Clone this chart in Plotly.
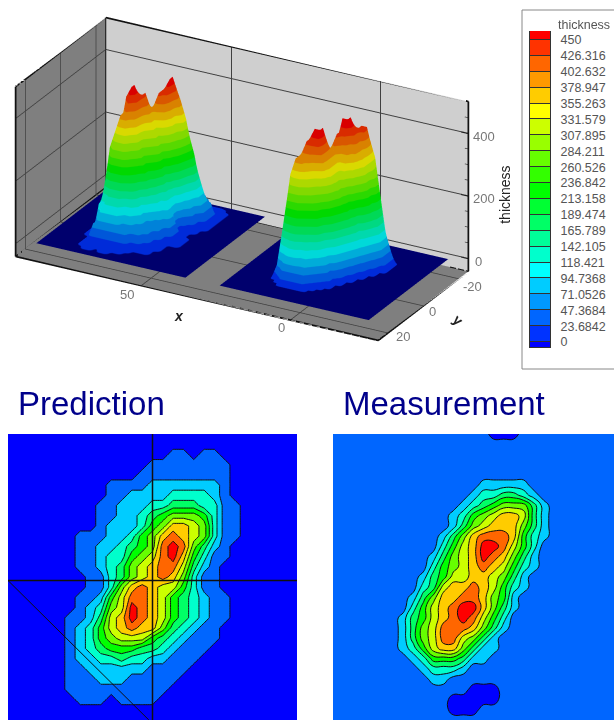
import numpy as np
import plotly.graph_objects as go

OFF = 0
W, H = 614 - OFF, 720 - OFF

# band index (0-9, A=10), one string per row, top row first
PREDICTION_ROWS = [
    "00000000000000000000000000000",
    "00000000000000000000000000000",
    "00000000000000001101100000000",
    "00000000000000111111110000000",
    "00000000000001111111110000000",
    "00000000001111222222210000000",
    "00000000001122223333210000000",
    "00000000011222334443311000000",
    "00000000011223456665311000000",
    "00000000012223568876311000000",
    "00000001112235689876311000000",
    "0000000112234569A964210000000",
    "0000000112335679A853110000000",
    "00000001123467899742100000000",
    "00000000113467898631100000000",
    "00000000113689877531100000000",
    "00000001125799875432110000000",
    "000000012367A9875432110000000",
    "000000112478A9875432110000000",
    "00000012357898864321100000000",
    "00000012356777543211100000000",
    "00000012345554432111000000000",
    "00000012233433221110000000000",
    "00000011222222111100000000000",
    "00000011122211111000000000000",
    "00000011111111110000000000000",
    "00000001110111100000000000000",
    "00000000000000000000000000000",
    "00000000000000000000000000000",
]
MEASUREMENT_ROWS = [
    "11111111111111110001111111111",
    "11111111111111111111111111111",
    "11111111111111111111111111111",
    "11111111111111111111111111111",
    "11111111111111111111111111111",
    "11111111111111122222111111111",
    "11111111111111233443211111111",
    "11111111111112345666421111111",
    "11111111111123567887421111111",
    "11111111111124678886421111111",
    "11111111111246899985321111111",
    "111111111113578AA975311111111",
    "111111111124678A9864211111111",
    "11111111113567898753211111111",
    "11111111124577887642111111111",
    "11111111134788987532111111111",
    "11111111246889986521111111111",
    "1111111135789AA86421111111111",
    "1111111245789A975311111111111",
    "11111112467999864211111111111",
    "11111112467997642111111111111",
    "11111112357886422111111111111",
    "11111111235554221111111111111",
    "11111111123332111111111111111",
    "11111111112211111111111111111",
    "11111111111111000111111111111",
    "11111111111100000111111111111",
    "11111111111100011111111111111",
    "11111111111111111111111111111",
]
# thickness that each band index stands for in the 3D view
PREDICTION_HEIGHTS = [0, 12, 60, 110, 165, 220, 280, 335, 390, 435, 470]
MEASUREMENT_HEIGHTS = [0, 0, 45, 100, 155, 215, 275, 335, 390, 435, 472]

MAP_COLORS = ["#0000ff", "#0066ff", "#00ccff", "#00ffcc", "#00ff66", "#00ff00",
              "#66ff00", "#ccff00", "#ffcc00", "#ff6600", "#ff0000"]

LEGEND_LABELS = ["450", "426.316", "402.632", "378.947", "355.263", "331.579", "307.895",
                 "284.211", "260.526", "236.842", "213.158", "189.474", "165.789", "142.105",
                 "118.421", "94.7368", "71.0526", "47.3684", "23.6842", "0"]
LEGEND_COLORS = ["#ff0000", "#ff3300", "#ff6600", "#ff9900", "#ffcc00", "#ffff00", "#ccff00",
                 "#99ff00", "#66ff00", "#33ff00", "#00ff00", "#00ff33", "#00ff66", "#00ff99",
                 "#00ffcc", "#00ffff", "#00ccff", "#0099ff", "#0066ff", "#0033ff", "#0000ff"]

X_TICKS = [0, 50]
Y_TICKS = [-20, 0, 20]
Z_TICKS = [0, 200, 400]
Z_MINOR = [50, 100, 150, 250, 300, 350, 450]
X_RANGE = [-29.5, 92.2]
Y_RANGE = [-25.5, 25.5]
Z_RANGE = [-41, 502]
RIGHT_CENTER_X = 0.5
LEFT_CENTER_X = 62
HALF_X = 25
HALF_Y = 22.5


def parse(rows):
    assert all(len(r) == 29 for r in rows), [len(r) for r in rows]
    assert len(rows) == 29
    return np.array([[int(c, 16) for c in r] for r in rows])


pred = parse(PREDICTION_ROWS)
meas = parse(MEASUREMENT_ROWS)
pred_h = np.array(PREDICTION_HEIGHTS, dtype=float)[pred]
meas_h = np.array(MEASUREMENT_HEIGHTS, dtype=float)[meas]
xs = np.linspace(-HALF_X, HALF_X, 29)
ys = np.linspace(HALF_Y, -HALF_Y, 29)


def fx(p):
    return (p - OFF) / W


def fy(p):
    return 1 - (p - OFF) / H


def dom_x(a, b):
    return [max(fx(a), 0), min(fx(b), 1)]


def dom_y(top, bottom):
    return [max(fy(bottom), 0), min(fy(top), 1)]


n = len(MAP_COLORS)
map_scale = []
for i, c in enumerate(MAP_COLORS):
    map_scale += [[i / n, c], [(i + 1) / n, c]]


def contour(z, xa, ya, smooth):
    return go.Contour(
        x=xs, y=ys, z=z, xaxis=xa, yaxis=ya, zmin=-0.5, zmax=10.5, autocontour=False,
        contours=dict(start=0.5, end=9.5, size=1, coloring="fill"),
        colorscale=map_scale, showscale=False, hoverinfo="skip",
        line=dict(color="#101010", width=1, smoothing=smooth),
    )


cmax = 473.68
sc = [[0, "#000080"], [0.008, "#000080"]]
surf_cols = LEGEND_COLORS[::-1][1:]
m = len(surf_cols)
for i, c in enumerate(surf_cols):
    lo = i / m
    hi = (i + 1) / m
    sc += [[max(lo, 0.008), c], [hi, c]]

light = dict(ambient=0.85, diffuse=0.35, specular=0.05, roughness=0.9, fresnel=0.02)


def surf(x_center, z):
    return go.Surface(
        x=xs + x_center, y=ys, z=z, cmin=0, cmax=cmax, colorscale=sc, showscale=False,
        lighting=light, lightposition=dict(x=-1000, y=3000, z=6000), hoverinfo="skip",
    )


x0, x1 = X_RANGE
y0, y1 = Y_RANGE
z0, z1 = Z_RANGE
edges = go.Scatter3d(
    x=[x1, x0, x0, x1, x1, x1, None, x0, x0, None, x1, x1, None, x1, x1, None, x1, x0],
    y=[y1, y1, y0, y0, y1, y1, None, y0, y0, None, y0, y0, None, y0, y1, None, y0, y0],
    z=[z0, z0, z0, z0, z0, z1, None, z0, z1, None, z0, z1, None, z1, z1, None, z1, z1],
    mode="lines", line=dict(color="#111111", width=3.5), hoverinfo="skip", showlegend=False,
)
tick_x, tick_y, tick_z = [], [], []
for t in Z_TICKS:
    tick_x += [x0, x0 + 2.4, None]
    tick_y += [y0, y0, None]
    tick_z += [t, t, None]
z_ticks = go.Scatter3d(x=tick_x, y=tick_y, z=tick_z, mode="lines",
                       line=dict(color="#111111", width=3), hoverinfo="skip", showlegend=False)
tick_x, tick_y, tick_z = [], [], []
for t in Z_MINOR:
    tick_x += [x0, x0 + 1.2, None]
    tick_y += [y0, y0, None]
    tick_z += [t, t, None]
z_minor = go.Scatter3d(x=tick_x, y=tick_y, z=tick_z, mode="lines",
                       line=dict(color="#444444", width=1.5), hoverinfo="skip", showlegend=False)

lv = [float(v) for v in LEGEND_LABELS]
top_edge = 463.4
bot_edge = -8.9
leg_edges = [top_edge] + lv + [bot_edge]
k = len(LEGEND_COLORS)
leg_scale = []
for i, c in enumerate(LEGEND_COLORS[::-1]):
    leg_scale += [[i / k, c], [(i + 1) / k, c]]
legend = go.Heatmap(
    y=leg_edges[::-1], x=[0, 1], z=[[i] for i in range(k)], zmin=-0.5, zmax=k - 0.5,
    colorscale=leg_scale, showscale=False, xaxis="x3", yaxis="y3", ygap=1, hoverinfo="skip",
)

fig = go.Figure([
    surf(LEFT_CENTER_X, pred_h),
    surf(RIGHT_CENTER_X, meas_h),
    edges, z_ticks, z_minor,
    contour(pred, "x", "y", 0),
    contour(meas, "x2", "y2", 1.3),
    legend,
])

GRID = "#404040"
TICK = "#777777"
TFONT = dict(family="Liberation Sans", size=13, color=TICK)
TITLE = dict(family="Liberation Sans", size=14, color="#222222")


def ax3(rng, ticks, bg):
    return dict(
        title=dict(text=""), range=rng, tickvals=ticks, showticklabels=False, showgrid=True,
        gridcolor=GRID, gridwidth=2, showbackground=True, backgroundcolor=bg, zeroline=False,
        showspikes=False, ticks="", autorange=False,
    )


def note3(x, y, z, text, dx, dy, font=TFONT, angle=0):
    return dict(x=x, y=y, z=z, text=text, showarrow=False, xshift=dx, yshift=-dy, font=font,
                textangle=angle, xanchor="center", yanchor="middle")


scene_notes = [
    note3(50, y1, z0, "50", -14, 9),
    note3(0, y1, z0, "0", -9, 7),
    note3(37.3, y1, z0, "<b><i>x</i></b>", 0, 22, TITLE),
    note3(x0, -20, z0, "-20", 14, 8),
    note3(x0, 0, z0, "0", 9, 6),
    note3(x0, 20, z0, "20", 15, 4),
    note3(x0, -10, z0, "<b>y</b>", 17, 28, TITLE, 45),
    note3(x0, y0, 0, "0", 10, 3),
    note3(x0, y0, 200, "200", 16, 3),
    note3(x0, y0, 400, "400", 16, 3),
    note3(x0, y0, 205, "thickness", 37, 0, TITLE, -90),
]

d = 1.85
eye = np.array([-0.4368, 0.7949, 0.4212]) * d
SC = 1.046

fig.update_layout(
    width=W, height=H, margin=dict(l=0, r=0, t=0, b=0), autosize=False,
    paper_bgcolor="white", plot_bgcolor="#333333", showlegend=False,
    scene=dict(
        domain=dict(x=dom_x(0, 484), y=dom_y(0, 358)),
        xaxis=ax3(X_RANGE, X_TICKS, "#7f7f7f"),
        yaxis=ax3(Y_RANGE, Y_TICKS, "#cfcfcf"),
        zaxis=ax3(Z_RANGE, Z_TICKS, "#7f7f7f"),
        aspectmode="manual", aspectratio=dict(x=2.21 * SC, y=SC, z=SC),
        camera=dict(eye=dict(x=eye[0], y=eye[1], z=eye[2]), up=dict(x=0, y=0, z=1),
                    center=dict(x=0, y=0, z=0), projection=dict(type="orthographic")),
        annotations=scene_notes,
    ),
    xaxis=dict(domain=dom_x(8, 297), range=[-HALF_X, HALF_X], visible=False, anchor="y"),
    yaxis=dict(domain=dom_y(434, 720), range=[-HALF_Y, HALF_Y], visible=False, anchor="x"),
    xaxis2=dict(domain=dom_x(333, 614), range=[-HALF_X, HALF_X], visible=False, anchor="y2"),
    yaxis2=dict(domain=dom_y(434, 720), range=[-HALF_Y, HALF_Y], visible=False, anchor="x2"),
    xaxis3=dict(domain=dom_x(530, 550), range=[0, 1], visible=False, anchor="y3"),
    yaxis3=dict(
        domain=dom_y(31, 348), range=[bot_edge, top_edge], side="right", tickvals=lv, anchor="x3",
        ticktext=LEGEND_LABELS, ticks="outside", ticklen=7, tickcolor="rgba(0,0,0,0)",
        tickfont=dict(family="Liberation Sans", size=12.5, color="#555555"),
        showgrid=False, zeroline=False, showline=True, linecolor="#333333", mirror=True,
    ),
    shapes=[
        dict(type="rect", xref="paper", yref="paper", x0=fx(522), x1=1.01, y0=fy(369), y1=fy(10),
             line=dict(color="#888888", width=1), fillcolor="rgba(0,0,0,0)", layer="below"),
        dict(type="line", xref="x", yref="y", x0=0, x1=0, y0=-HALF_Y, y1=HALF_Y, line=dict(color="#101010", width=1.5)),
        dict(type="line", xref="x", yref="y", x0=-HALF_X, x1=HALF_X, y0=-0.55, y1=-0.55, line=dict(color="#101010", width=1.5)),
        dict(type="line", xref="x", yref="y", x0=-HALF_X, x1=-0.63, y0=-0.55, y1=-HALF_Y, line=dict(color="#101010", width=1)),
    ],
    annotations=[
        dict(text="thickness", x=fx(556), y=fy(25), xref="paper", yref="paper", xanchor="left", yanchor="middle",
             showarrow=False, font=dict(family="Liberation Sans", size=12.5, color="#555555")),
        dict(text="Prediction", x=fx(16), y=fy(403), xref="paper", yref="paper", xanchor="left", yanchor="middle",
             showarrow=False, font=dict(family="Liberation Sans", size=33, color="#00008b")),
        dict(text="Measurement", x=fx(341), y=fy(403), xref="paper", yref="paper", xanchor="left", yanchor="middle",
             showarrow=False, font=dict(family="Liberation Sans", size=33, color="#00008b")),
    ],
)

fig.write_html("out.html", config=dict(displayModeBar=False),
               post_script="document.body.style.margin='0';document.documentElement.style.overflow='hidden';")
